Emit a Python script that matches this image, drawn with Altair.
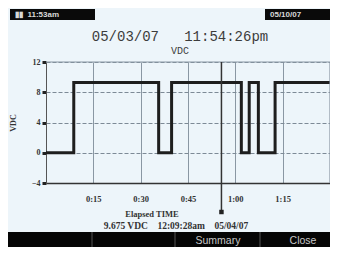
import altair as alt
import pandas as pd

# Trace (elapsed minutes, VDC), step-after
t_min = [0, 8.8, 35.7, 39.8, 61.9, 64.4, 67.3, 72.6, 90]
vdc = [0, 9.3, 0, 9.3, 0, 9.3, 0, 9.3, 9.3]
y_ticks = [-4, 0, 4, 8, 12]
x_ticks = [15, 30, 45, 60, 75]
x_labels = ["0:15", "0:30", "0:45", "1:00", "1:15"]
cursor_min = [55.6]

NB = "\u00a0"
title_text = "05/03/07" + NB * 3 + "11:54:26pm"
status_text = "9.675 VDC" + NB * 4 + "12:09:28am" + NB * 4 + "05/04/07"

W, H = 284, 121
BG = "#edf5fa"

df = pd.DataFrame({"t": t_min, "v": vdc})
one = pd.DataFrame({"k": [0]})
lab_expr = "{" + ",".join(f"'{k}':'{l}'" for k, l in zip(x_ticks, x_labels)) + "}[datum.value]"

xs = alt.Scale(domain=[0, 90], nice=False)
ys = alt.Scale(domain=[-4, 12], nice=False)

line = alt.Chart(df).mark_line(interpolate="step-after", color="#1e1e1e", strokeWidth=3).encode(
    x=alt.X("t:Q", scale=xs, axis=alt.Axis(values=x_ticks, labelExpr=lab_expr, title=None,
                                           ticks=False, labelPadding=11, labelFontSize=8.5,
                                           labelFontWeight="bold", labelColor="#333",
                                           gridColor="#8a97a3", gridWidth=1, domainColor="#333",
                                           domainWidth=1.5, labelFont="Liberation Serif")),
    y=alt.Y("v:Q", scale=ys, axis=alt.Axis(values=y_ticks, title=None, tickSize=4, tickWidth=3,
                                           tickColor="#222", labelPadding=2, labelFontSize=8,
                                           labelFontWeight="bold", labelColor="#333",
                                           gridDash=[4, 2], gridColor="#7d8a96", gridWidth=1.2,
                                           domainColor="#555", labelFont="Liberation Serif")),
)

cur_df = pd.DataFrame({"t": cursor_min})
cursor = alt.Chart(cur_df).mark_rule(color="#333", strokeWidth=1.5).encode(
    x=alt.X("t:Q", scale=xs), y=alt.value(0), y2=alt.value(150))
cursor_mark = alt.Chart(cur_df).mark_square(color="#222", size=20, opacity=1).encode(
    x=alt.X("t:Q", scale=xs), y=alt.value(150))


def rule(x, x2=None, y=None, y2=None, color="#8a97a3", w=1.2):
    enc = {"x": alt.value(x), "y": alt.value(y)}
    if x2 is not None:
        enc["x2"] = alt.value(x2)
    if y2 is not None:
        enc["y2"] = alt.value(y2)
    return alt.Chart(one).mark_rule(color=color, strokeWidth=w).encode(**enc)


def rect(x, x2, y, y2, color):
    return alt.Chart(one).mark_rect(color=color).encode(
        x=alt.value(x), x2=alt.value(x2), y=alt.value(y), y2=alt.value(y2))


def text(s, x, y, size, color="#333", weight="normal", font="Liberation Sans", align="center", angle=0):
    return alt.Chart(one).mark_text(text=s, fontSize=size, color=color, fontWeight=weight, font=font,
                                    align=align, baseline="middle", angle=angle).encode(
        x=alt.value(x), y=alt.value(y))


layers = [
    line,
    rule(0, x2=W, y=0),
    rule(W, y=0, y2=H),
    cursor, cursor_mark,
    rect(-36, 49, -53, -42, "#0a0a0a"),
    text("\u25ae\u25ae" + NB * 2 + "11:53am", -31, -47.5, 8, color="#d8d8d8", align="left", weight="bold"),
    rect(219, 290, -53, -42, "#0a0a0a"),
    text("05/10/07", 224, -47.5, 8, color="#d8d8d8", align="left", weight="bold"),
    text(title_text, 134, -25.5, 14, color="#3c3c3c", font="Liberation Mono"),
    text("VDC", 134, -11.5, 10, color="#3c3c3c", font="Liberation Mono"),
    text("VDC", -32, 61, 8, weight="bold", font="Liberation Serif", angle=270),
    text("Elapsed TIME", 106, 152, 8.5, weight="bold", font="Liberation Serif"),
    text(status_text, 130, 164, 9.5, weight="bold", font="Liberation Serif"),
    rect(-38, 290, 170, 190, "#050505"),
    rule(46, y=170, y2=190, color="#555", w=1),
    rule(129, y=170, y2=190, color="#555", w=1),
    rule(214, y=170, y2=190, color="#555", w=1),
    text("Summary", 172, 179, 10.5, color="#c8c8c8"),
    text("Close", 257, 179, 10.5, color="#c8c8c8"),
]

chart = alt.layer(*layers).properties(
    width=W, height=H,
    autosize=alt.AutoSizeParams(type="none"),
    padding={"left": 38, "top": 54, "right": 0, "bottom": 64},
    background=BG,
).configure_view(stroke=None)

chart.save("out.html", embed_options={"renderer": "svg", "actions": False})
